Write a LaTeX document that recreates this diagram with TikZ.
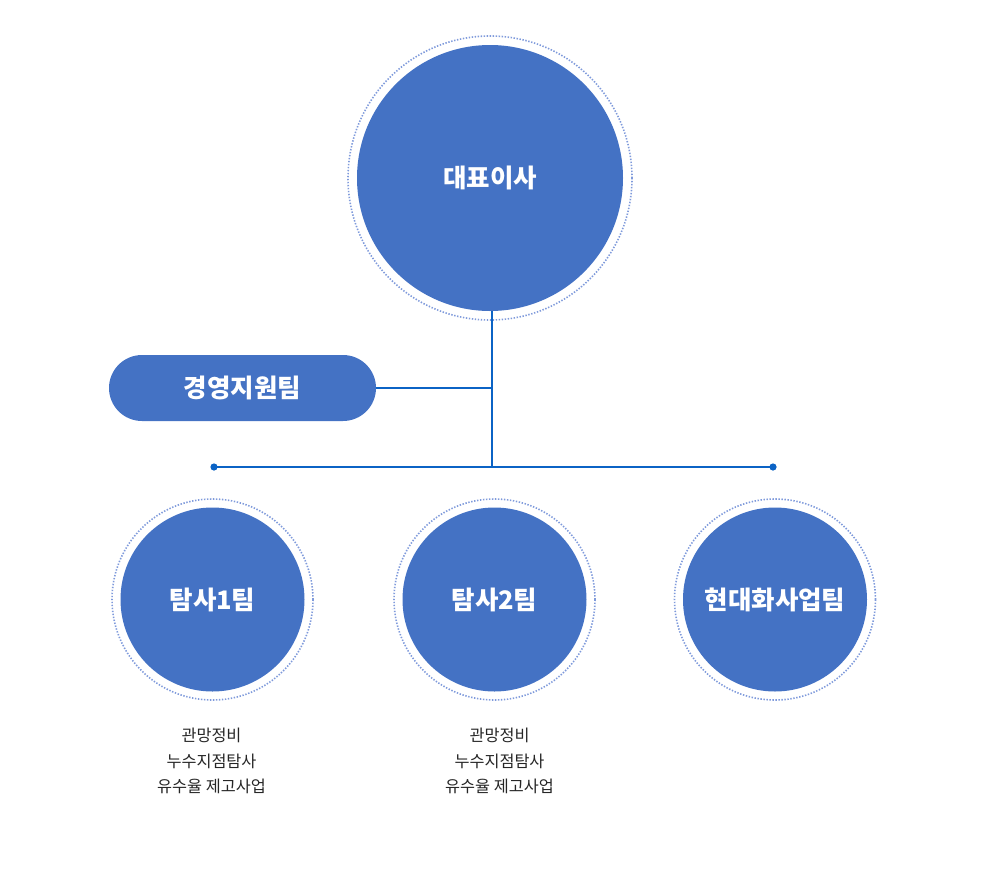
\documentclass[tikz,border=0pt]{standalone}
\usepackage{fontspec}
\newfontfamily\kr{Noto Sans CJK KR}
\definecolor{fillblue}{HTML}{4472C4}
\definecolor{lineblue}{HTML}{0B63C5}
\definecolor{ringblue}{HTML}{7F9ADB}
\tikzset{
  bigc/.style={circle, fill=fillblue, draw=none, inner sep=0pt, text=white,
    font=\kr\bfseries\fontsize{25.5}{30}\selectfont},
  ringc/.style={circle, draw=ringblue, line width=1.6pt, dash pattern=on 1.4pt off 1.6pt, inner sep=0pt, fill=none},
  pillbox/.style={rectangle, rounded corners=33pt, fill=fillblue, text=white, inner sep=0pt,
    minimum width=267pt, minimum height=66pt, font=\kr\bfseries\fontsize{25.5}{30}\selectfont},
  conn/.style={draw=lineblue, line width=1.1pt},
  subtext/.style={align=center, text=black!85, font=\kr\fontsize{16.3}{25.5}\selectfont, inner sep=0pt},
}
\begin{document}
\begin{tikzpicture}[x=1pt,y=-1pt]
\useasboundingbox (0,0) rectangle (986,884);
% top
\node[ringc, minimum size=284pt] (ceoring) at (490,178) {};
\node[bigc, minimum size=266pt] (ceo) at (490,178) {대표이사};
% junction coordinates
\coordinate (jn) at (492,467);
\coordinate (lend) at (214,467);
\coordinate (rend) at (773,467);
% management pill
\node[pillbox] (mgmt) at (242.5,388) {경영지원팀};
% connectors
\draw[conn] (ceo.south -| jn) -- (jn);
\draw[conn] (mgmt.east) -- (mgmt.east -| jn);
\draw[conn] (lend) -- (rend);
\fill[lineblue] (lend) circle (3.6);
\fill[lineblue] (rend) circle (3.6);
% bottom circles
\node[ringc, minimum size=201pt] (t1ring) at (212.5,599.5) {};
\node[bigc, minimum size=184pt] (t1) at (212.5,599.5) {탐사1팀};
\node[ringc, minimum size=201pt] (t2ring) at (494.5,599.5) {};
\node[bigc, minimum size=184pt] (t2) at (494.5,599.5) {탐사2팀};
\node[ringc, minimum size=201pt] (t3ring) at (775,599.5) {};
\node[bigc, minimum size=184pt] (t3) at (775,599.5) {현대화사업팀};
% descriptions
\node[subtext] (d1) at (211.5,761) {관망정비\\누수지점탐사\\유수율 제고사업};
\node[subtext] (d2) at (499.5,761) {관망정비\\누수지점탐사\\유수율 제고사업};
\end{tikzpicture}
\end{document}
